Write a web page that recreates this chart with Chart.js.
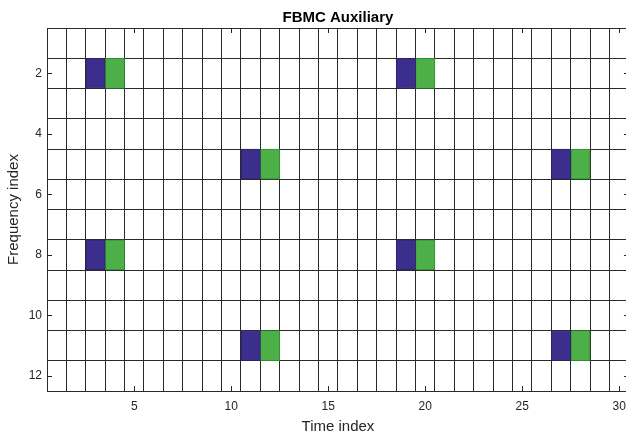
<!DOCTYPE html>
<html>
<head>
<meta charset="utf-8">
<script src="https://cdn.jsdelivr.net/npm/chart.js@4.4.0/dist/chart.umd.min.js"></script>
<style>
  html, body { margin: 0; padding: 0; background: #fff; overflow: hidden; }
  #wrap { width: 634px; height: 432px; }
</style>
</head>
<body>
<div id="wrap"><canvas id="grid_chart"></canvas></div>
<script>
// 셀 위치 (시간 인덱스, 주파수 인덱스)
const blueTime  = [3, 19, 11, 27, 3, 19, 11, 27];
const blueFreq  = [2, 2, 5, 5, 8, 8, 11, 11];
const greenTime = [4, 20, 12, 28, 4, 20, 12, 28];
const greenFreq = [2, 2, 5, 5, 8, 8, 11, 11];

// 축 눈금
const timeCells = 30;
const freqCells = 12;
const xTickLabels = [5, 10, 15, 20, 25, 30];
const yTickLabels = [2, 4, 6, 8, 10, 12];

function cells(times, freqs) {
  return times.map(function(t, i){
    return {x: t, y: [freqs[i] - 0.5, freqs[i] + 0.5]};
  });
}

function everyIndex(n) {
  let arr = [];
  for (let i = 1; i <= n; i++) arr.push({value: i});
  return arr;
}

// 안쪽 눈금 표시
const tickMarks = {
  id: 'tickMarks',
  afterDraw: function(chart) {
    const ctx = chart.ctx;
    const area = chart.chartArea;
    const xs = chart.scales.x;
    const ys = chart.scales.y;
    ctx.save();
    ctx.strokeStyle = '#262626';
    ctx.lineWidth = 1;
    ctx.beginPath();
    xTickLabels.forEach(function(v){
      const px = Math.round(xs.getPixelForValue(v)) + 0.5;
      ctx.moveTo(px, area.bottom); ctx.lineTo(px, area.bottom - 5);
      ctx.moveTo(px, area.top); ctx.lineTo(px, area.top + 5);
    });
    yTickLabels.forEach(function(v){
      const py = Math.round(ys.getPixelForValue(v)) + 0.5;
      ctx.moveTo(area.left, py); ctx.lineTo(area.left + 5, py);
      ctx.moveTo(area.right, py); ctx.lineTo(area.right - 5, py);
    });
    ctx.stroke();
    ctx.restore();
  }
};

const font = "'Liberation Sans', Arial, Helvetica, sans-serif";

new Chart(document.getElementById('grid_chart'), {
  type: 'bar',
  data: {
    datasets: [
      {
        label: 'blue',
        data: cells(blueTime, blueFreq),
        backgroundColor: '#3b2e8c',
        borderColor: '#2c2366',
        borderWidth: 1,
        borderSkipped: false
      },
      {
        label: 'green',
        data: cells(greenTime, greenFreq),
        backgroundColor: '#4caf47',
        borderColor: '#2f8f2f',
        borderWidth: 1,
        borderSkipped: false
      }
    ]
  },
  options: {
    animation: false,
    responsive: true,
    maintainAspectRatio: false,
    grouped: false,
    barPercentage: 1,
    categoryPercentage: 1,
    layout: { padding: 0 },
    plugins: {
      legend: { display: false },
      tooltip: { enabled: false },
      title: {
        display: true,
        text: 'FBMC Auxiliary',
        fullSize: false,
        color: '#000',
        font: { family: font, size: 15, weight: 'bold', lineHeight: 1.2 },
        padding: { top: 8.5, bottom: 1.5 }
      }
    },
    scales: {
      x: {
        type: 'linear',
        min: 0.5,
        max: timeCells + 0.5,
        offset: false,
        afterBuildTicks: function(scale){ scale.ticks = everyIndex(timeCells); },
        afterFit: function(scale){ scale.height = 41; },
        grid: { offset: true, color: '#2a2a2a', lineWidth: 1, drawTicks: false },
        border: { display: false },
        ticks: {
          autoSkip: false,
          maxRotation: 0,
          padding: 8,
          color: '#262626',
          font: { family: font, size: 12 },
          callback: function(v){ return xTickLabels.indexOf(v) >= 0 ? String(v) : ''; }
        },
        title: {
          display: true,
          text: 'Time index',
          color: '#262626',
          font: { family: font, size: 15, lineHeight: 1 },
          padding: { top: 0, bottom: -2.5 }
        }
      },
      y: {
        type: 'linear',
        reverse: true,
        min: 0.5,
        max: freqCells + 0.5,
        offset: false,
        afterBuildTicks: function(scale){ scale.ticks = everyIndex(freqCells); },
        afterFit: function(scale){ scale.width = 47; },
        grid: { offset: true, color: '#2a2a2a', lineWidth: 1, drawTicks: false },
        border: { display: false },
        ticks: {
          autoSkip: false,
          padding: 5,
          color: '#262626',
          font: { family: font, size: 12 },
          callback: function(v){ return yTickLabels.indexOf(v) >= 0 ? String(v) : ''; }
        },
        title: {
          display: true,
          text: 'Frequency index',
          color: '#262626',
          font: { family: font, size: 15, lineHeight: 1.2 },
          padding: { top: 5, bottom: 0 }
        }
      }
    }
  },
  plugins: [tickMarks]
});
</script>
</body>
</html>
